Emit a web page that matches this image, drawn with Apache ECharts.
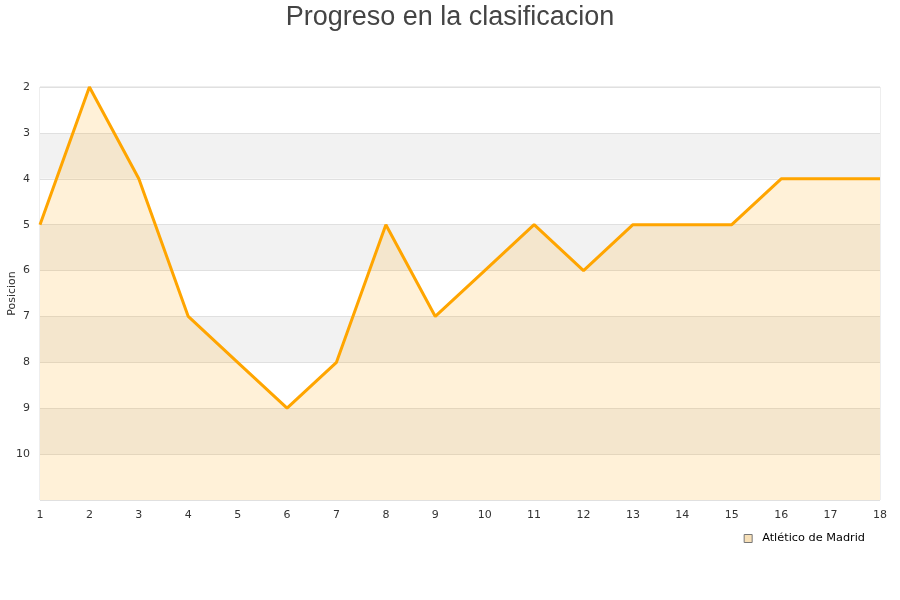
<!DOCTYPE html>
<html><head><meta charset="utf-8">
<script src="https://cdn.jsdelivr.net/npm/echarts@6/dist/echarts.min.js"></script>
<style>html,body{margin:0;padding:0;background:#fff}#c{width:900px;height:600px}</style>
</head><body><div id="c"></div>
<script>
const jornadas = ['1','2','3','4','5','6','7','8','9','10','11','12','13','14','15','16','17','18'];
const posiciones = [5,2,4,7,8,9,8,5,7,6,5,6,5,5,5,4,4,4];
const equipo = 'Atlético de Madrid';
const titulo = 'Progreso en la clasificacion';

const chart = echarts.init(document.getElementById('c'), null, {renderer:'canvas'});
chart.setOption({
  animation:false,
  backgroundColor:'#fff',
  title:{text:titulo,left:'center',top:-1,textStyle:{fontFamily:'Liberation Sans, Arial',fontSize:27,fontWeight:'normal',color:'#444'}},
  grid:{left:40,right:20,top:87,bottom:100,containLabel:false,outerBoundsMode:'none',show:true,borderColor:'#ddd',borderWidth:1},
  legend:{data:[{name:equipo,icon:'rect',itemStyle:{color:'#f7e0b8',borderColor:'#777',borderWidth:1}}],
    right:30,top:528,itemWidth:8,itemHeight:8,itemGap:10,
    textStyle:{fontFamily:'DejaVu Sans',fontSize:11.3,color:'#000',padding:[0,0,0,5]}},
  xAxis:{type:'category',data:jornadas,boundaryGap:false,
    axisLine:{show:false},axisTick:{show:false},
    axisLabel:{fontFamily:'DejaVu Sans',fontSize:11,color:'#333',margin:10},
    splitLine:{show:false}},
  yAxis:{type:'value',inverse:true,min:2,max:11,interval:1,name:'Posicion',nameLocation:'middle',nameGap:22,nameMoveOverlap:false,
    nameTextStyle:{fontFamily:'DejaVu Sans',fontSize:11,color:'#333'},
    axisLine:{show:false},axisTick:{show:false},
    axisLabel:{fontFamily:'DejaVu Sans',fontSize:11,color:'#333',margin:10,formatter:v=>v===11?'':String(v)},
    splitLine:{show:true,lineStyle:{color:'#e0e0e0'}},
    splitArea:{show:true,areaStyle:{color:['#ffffff','#f2f2f2']}}},
  series:[{name:equipo,type:'line',data:posiciones,symbol:'none',
    lineStyle:{color:'#ffa500',width:3},
    itemStyle:{color:'#ffa500'},
    areaStyle:{color:'rgba(255,165,0,0.22)',origin:'end'}}]
});
</script></body></html>
